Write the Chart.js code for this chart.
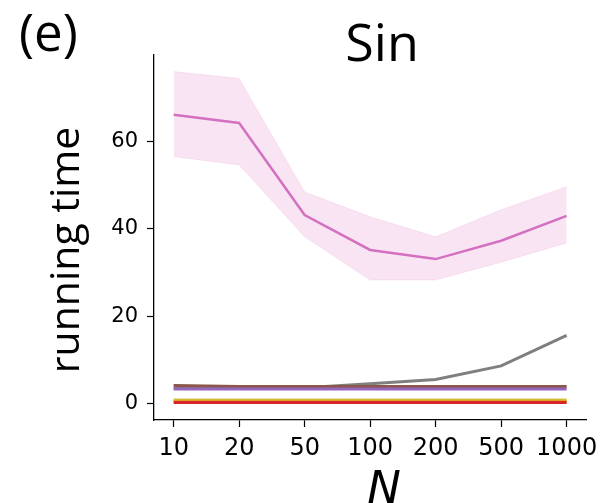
<!DOCTYPE html>
<html>
<head>
<meta charset="utf-8">
<script src="https://cdn.jsdelivr.net/npm/chart.js@4.4.0/dist/chart.umd.min.js"></script>
<style>
  html, body { margin: 0; padding: 0; background: #fff; }
  #wrap { position: relative; width: 605px; height: 503px; }
</style>
</head>
<body>
<div id="wrap"><canvas id="c" width="605" height="503"></canvas></div>
<script>
// ---- data ----
const nLabels = ['10', '20', '50', '100', '200', '500', '1000'];
const yTickValues = [0, 20, 40, 60];
const sinMean  = [66.2, 64.3, 43.2, 35.2, 33.1, 37.3, 43.0];
const sinUpper = [76.1, 74.5, 48.5, 42.8, 38.2, 44.4, 49.7];
const sinLower = [56.6, 54.7, 38.2, 28.3, 28.3, 32.4, 36.8];
const grayVals   = [3.4, 3.6, 3.6, 4.5, 5.5, 8.6, 15.6];
const brownVals  = [4.1, 3.9, 3.9, 3.9, 3.9, 3.9, 3.9];
const purpleVals = [3.3, 3.3, 3.3, 3.3, 3.3, 3.3, 3.3];
const oliveVals  = [0.8, 0.8, 0.8, 0.8, 0.8, 0.8, 0.8];
const orangeVals = [0.5, 0.5, 0.5, 0.5, 0.5, 0.5, 0.5];
const redVals    = [0.2, 0.2, 0.2, 0.2, 0.2, 0.2, 0.2];

const panelLabel = '(e)';
const titleText = 'Sin';
const xTitle = 'N';
const yTitle = 'running time';

const pts = arr => arr.map((v, i) => ({x: i, y: v}));
const line = (label, arr, color, width) => ({
  label, data: pts(arr), borderColor: color, backgroundColor: color,
  borderWidth: width, pointRadius: 0, fill: false, tension: 0
});

const panelText = {
  id: 'panelText',
  afterDraw(chart) {
    const ctx = chart.ctx;
    ctx.save();
    ctx.fillStyle = '#000';
    ctx.textBaseline = 'alphabetic';
    ctx.textAlign = 'left';
    ctx.font = '51px "Open Sans"';
    ctx.fillText(panelLabel, 19, 51);
    ctx.textAlign = 'center';
    ctx.font = '52px "Open Sans"';
    ctx.fillText(titleText, 382, 61);
    // x axis title
    ctx.font = 'italic 45px "DejaVu Sans"';
    ctx.fillText(xTitle, 384, 503);
    // y axis title
    ctx.translate(79, 250);
    ctx.rotate(-Math.PI / 2);
    ctx.font = '41px "Open Sans"';
    ctx.fillText(yTitle, 0, 0);
    ctx.restore();
  }
};

new Chart(document.getElementById('c'), {
  type: 'line',
  data: {
    datasets: [
      {label: 'upper', data: pts(sinUpper), borderColor: 'rgba(227,119,194,0.15)', borderWidth: 1,
       backgroundColor: 'rgba(227,119,194,0.2)', pointRadius: 0, fill: false},
      {label: 'lower', data: pts(sinLower), borderColor: 'rgba(227,119,194,0.15)', borderWidth: 1,
       backgroundColor: 'rgba(227,119,194,0.2)', pointRadius: 0, fill: '-1'},
      line('red', redVals, '#d62728', 3),
      line('orange', orangeVals, '#e8a020', 3),
      line('olive', oliveVals, '#cfc640', 3),
      line('purple', purpleVals, '#9467bd', 3),
      line('brown', brownVals, '#8c564b', 3),
      line('gray', grayVals, '#7f7f7f', 3),
      line('Sin', sinMean, '#d070c0', 2.5)
    ]
  },
  options: {
    responsive: false,
    animation: false,
    layout: {padding: {left: 0, right: 18, top: 55, bottom: 0}},
    plugins: {legend: {display: false}, tooltip: {enabled: false}, title: {display: false}},
    scales: {
      x: {
        type: 'linear', min: -0.3, max: 6.3,
        afterBuildTicks: s => { s.ticks = nLabels.map((_, i) => ({value: i})); },
        afterFit: s => { s.height = 83; },
        ticks: {callback: v => nLabels[v], color: '#000', font: {family: 'DejaVu Sans', size: 24}, padding: 7, maxRotation: 0, autoSkip: false},
        grid: {display: true, drawOnChartArea: false, drawTicks: true, tickLength: 7, tickColor: '#000', tickWidth: 1.2},
        border: {display: true, color: '#000', width: 1.3}
      },
      y: {
        type: 'linear', min: -3.8, max: 79.9,
        afterBuildTicks: s => { s.ticks = yTickValues.map(v => ({value: v})); },
        afterFit: s => { s.width = 154; },
        ticks: {color: '#000', font: {family: 'DejaVu Sans', size: 21}, padding: 9},
        grid: {display: true, drawOnChartArea: false, drawTicks: true, tickLength: 7, tickColor: '#000', tickWidth: 1.2},
        border: {display: true, color: '#000', width: 1.3}
      }
    }
  },
  plugins: [panelText]
});
</script>
</body>
</html>
